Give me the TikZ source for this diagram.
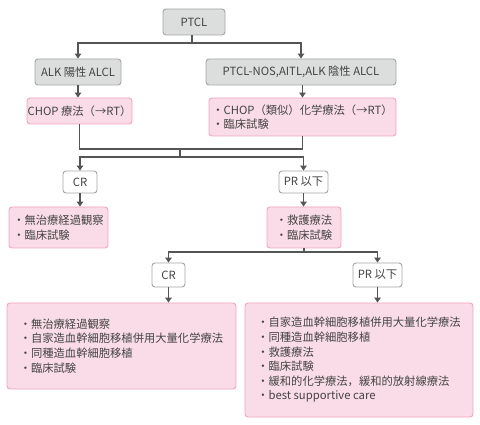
\documentclass[tikz,border=0pt]{standalone}
\usepackage{fontspec}
\setmainfont{Noto Sans CJK JP}
\usetikzlibrary{arrows.meta}
\definecolor{txtgrey}{HTML}{444444}
\definecolor{linegrey}{HTML}{555555}
\definecolor{boxgrey}{HTML}{DCDDDD}
\definecolor{edgegrey}{HTML}{A5A5A5}
\definecolor{boxpink}{HTML}{F9DCE7}
\definecolor{edgepink}{HTML}{F0A6C2}
\tikzset{
  box/.style={rounded corners=3pt, line width=0.9pt, inner sep=0pt,
    text=txtgrey, font=\fontsize{11.3}{14.6}\selectfont},
  greybox/.style={box, draw=edgegrey, fill=boxgrey},
  pinkbox/.style={box, draw=edgepink, fill=boxpink, align=left},
  whitebox/.style={box, draw=edgegrey, fill=white},
  line/.style={draw=linegrey, line width=1.1pt},
  arr/.style={line, -{Triangle[length=5pt,width=6.5pt]}}
}
\begin{document}
\begin{tikzpicture}[x=1pt, y=-1pt]

    \path[fill=white] (0,0) rectangle (480,425);
    \useasboundingbox (0,0) rectangle (480,425);

    % Top level
    \node[greybox, minimum width=62pt, minimum height=26pt] (ptcl) at (194,22) {PTCL};
    \node[greybox, minimum width=86pt, minimum height=26pt] (alk) at (78,72) {ALK 陽性 ALCL};
    \node[greybox, minimum width=190pt, minimum height=26pt] (nos) at (301,72) {PTCL-NOS,AITL,ALK 陰性 ALCL};

    % First-line therapy
    \node[pinkbox, minimum width=105pt, minimum height=26pt] (chop) at (79.5,111) {CHOP 療法（→RT）};
    \node[pinkbox, minimum width=187pt, minimum height=38pt] (chopnos) at (302.5,117)
        {・CHOP（類似）化学療法（→RT）\\・臨床試験};

    % Response after first line
    \node[whitebox, minimum width=34pt, minimum height=22pt] (cr1) at (80,182) {CR};
    \node[whitebox, minimum width=49pt, minimum height=22pt] (pr1) at (303.5,182) {PR 以下};

    \node[pinkbox, minimum width=99pt, minimum height=41pt] (watch1) at (58.5,227.5)
        {・無治療経過観察\\・臨床試験};
    \node[pinkbox, minimum width=74pt, minimum height=41pt] (salv) at (304,227.5)
        {・救護療法\\・臨床試験};

    % Response after salvage
    \node[whitebox, minimum width=33pt, minimum height=24pt] (cr2) at (168.5,275) {CR};
    \node[whitebox, minimum width=49pt, minimum height=24pt] (pr2) at (377.5,275) {PR 以下};

    \node[pinkbox, minimum width=229pt, minimum height=86pt] (cons) at (121.5,346)
        {・無治療経過観察\\・自家造血幹細胞移植併用大量化学療法\\・同種造血幹細胞移植\\・臨床試験};
    \node[pinkbox, minimum width=228pt, minimum height=114pt] (later) at (359,360)
        {・自家造血幹細胞移植併用大量化学療法\\・同種造血幹細胞移植\\・救護療法\\・臨床試験\\%
         ・緩和的化学療法，緩和的放射線療法\\・best supportive care};

    % Connectors
    \coordinate (split1) at (192,43);
    \draw[line] (ptcl.south -| split1) -- (split1);
    \draw[arr] (split1) -| (alk.north);
    \draw[arr] (split1) -| (nos.north);

    \draw[arr] (alk.south) -- (alk.south |- chop.north);
    \draw[arr] (nos.south -| chopnos) -- (chopnos.north);

    \coordinate (merge) at (180,149);
    \coordinate (split2) at (180,157);
    \draw[line] (chop.south) |- (merge);
    \draw[line] (chopnos.south) |- (merge);
    \draw[line] (merge) -- (split2);
    \draw[arr] (split2) -| (cr1.north);
    \draw[arr] (split2) -| (pr1.north);

    \draw[arr] (cr1.south) -- (cr1.south |- watch1.north);
    \draw[arr] (pr1.south) -- (pr1.south |- salv.north);

    \coordinate (split3) at (304,252);
    \draw[line] (salv.south) -- (split3);
    \draw[arr] (split3) -| (cr2.north);
    \draw[arr] (split3) -| (pr2.north);

    \draw[arr] (cr2.south) -- (cr2.south |- cons.north);
    \draw[arr] (pr2.south) -- (pr2.south |- later.north);

\end{tikzpicture}
\end{document}
